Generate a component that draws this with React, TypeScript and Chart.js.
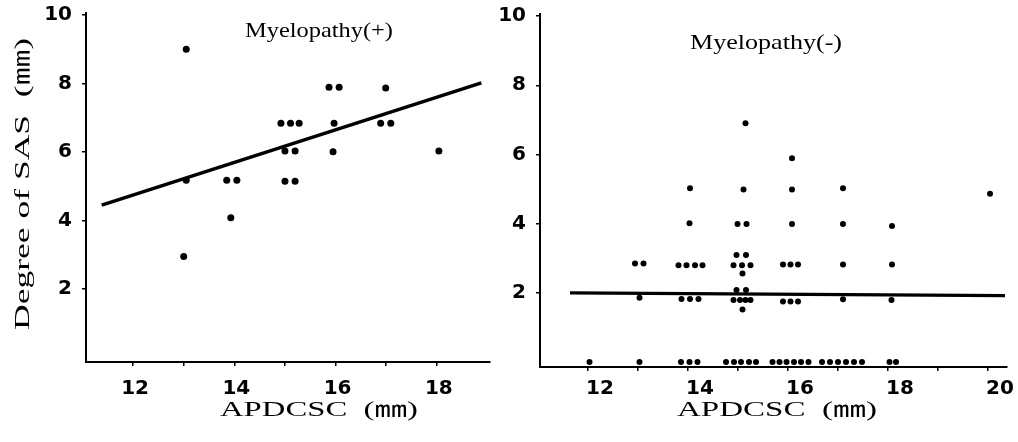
import React, { useEffect, useRef } from "react";
import { Chart, registerables } from "chart.js";

Chart.register(...registerables);

// ---------- data ----------
const leftX = [13.05, 13.0, 13.05, 13.85, 14.05, 13.93, 14.92, 15.11, 15.28, 15.0, 15.2, 15.0, 15.2, 15.87, 16.07, 15.97, 15.95, 16.99, 16.89, 17.09, 18.04];
const leftY = [9.0, 2.95, 5.18, 5.18, 5.18, 4.08, 6.84, 6.84, 6.84, 6.03, 6.03, 5.15, 5.15, 7.89, 7.89, 6.84, 6.01, 7.87, 6.84, 6.84, 6.03];
const leftFitX = [11.38, 18.88];
const leftFitY = [4.45, 8.02];

const rightX = [
  12.03,
  13.03, 13.03, 12.94, 13.11,
  13.86, 14.03, 14.19, 13.87, 14.04, 14.21, 13.81, 13.97, 14.14, 14.29, 14.03, 14.04,
  14.76, 14.92, 15.06, 15.22, 15.36, 14.97, 15.16, 14.91, 15.04, 15.15, 15.25, 15.09, 14.97, 15.16, 14.91, 15.08, 15.25, 15.09, 14.99, 15.17, 15.11, 15.15,
  15.69, 15.83, 15.97, 16.12, 16.26, 16.41, 15.9, 16.05, 16.2, 15.9, 16.05, 16.2, 16.08, 16.08, 16.08,
  16.68, 16.84, 17.0, 17.16, 17.32, 17.48, 17.1, 17.1, 17.1, 17.1,
  18.03, 18.16, 18.07, 18.08, 18.08,
  20.04,
];
const rightY = [
  0,
  0, 1.86, 2.85, 2.85,
  0, 0, 0, 1.82, 1.82, 1.82, 2.8, 2.8, 2.8, 2.8, 4.01, 5.02,
  0, 0, 0, 0, 0, 2.08, 2.08, 1.79, 1.79, 1.79, 1.79, 1.52, 3.09, 3.09, 2.8, 2.8, 2.8, 2.56, 3.99, 3.99, 4.99, 6.9,
  0, 0, 0, 0, 0, 0, 1.75, 1.75, 1.75, 2.82, 2.82, 2.82, 3.99, 4.99, 5.89,
  0, 0, 0, 0, 0, 0, 1.81, 2.82, 3.99, 5.02,
  0, 0, 1.79, 2.82, 3.93,
  4.86,
];
const rightFitX = [11.64, 20.34];
const rightFitY = [2.0, 1.92];

const leftXTicks = [12, 13, 14, 15, 16, 17, 18];
const leftXLabels = [12, 14, 16, 18];
const rightXTicks = [12, 13, 14, 15, 16, 17, 18, 19, 20];
const rightXLabels = [12, 14, 16, 18, 20];
const yTicks = [2, 4, 6, 8, 10];

const titleLeft = "Myelopathy(+)";
const titleRight = "Myelopathy(-)";
const xTitle = "APDCSC  (㎜)";
const yTitle = "Degree of SAS  (㎜)";

// ---------- helpers ----------
type TextSpec = { text: string; x: number; y: number; width: number; size: number; rotate?: number };

function textPlugin(specs: TextSpec[]) {
  return {
    id: "stretchText",
    afterDraw(chart: any) {
      const ctx = chart.ctx as CanvasRenderingContext2D;
      for (const s of specs) {
        ctx.save();
        ctx.font = `${s.size}px "Liberation Serif", "Noto Sans CJK JP", serif`;
        const w = ctx.measureText(s.text).width;
        ctx.translate(s.x, s.y);
        if (s.rotate) ctx.rotate(s.rotate);
        ctx.scale(s.width / w, 1);
        ctx.textAlign = "center";
        ctx.textBaseline = "middle";
        ctx.fillStyle = "#000";
        ctx.fillText(s.text, 0, 0);
        ctx.restore();
      }
    },
  };
}

const tickFont = { family: '"DejaVu Sans", sans-serif', weight: "bold" as const, size: 20 };

type PanelCfg = {
  xs: number[];
  ys: number[];
  fitX: number[];
  fitY: number[];
  xMin: number;
  xMax: number;
  yMin: number;
  yMax: number;
  xTicks: number[];
  xLabels: number[];
  yAxisWidth: number;
  xAxisHeight: number;
  padTop: number;
  padRight: number;
  xLabelPad: number;
  xLabelOffset: number;
  pointRadius: number;
  lineWidth: number;
  texts: TextSpec[];
};

function buildConfig(p: PanelCfg): any {
  return {
    type: "scatter",
    data: {
      datasets: [
        {
          data: p.fitX.map((x, i) => ({ x, y: p.fitY[i] })),
          showLine: true,
          borderColor: "#000",
          borderWidth: p.lineWidth,
          pointRadius: 0,
          fill: false,
        },
        {
          data: p.xs.map((x, i) => ({ x, y: p.ys[i] })),
          pointRadius: p.pointRadius,
          pointBackgroundColor: "#000",
          pointBorderWidth: 0,
          showLine: false,
        },
      ],
    },
    options: {
      animation: false,
      responsive: false,
      devicePixelRatio: 1,
      events: [],
      layout: { padding: { left: 0, right: p.padRight, top: p.padTop, bottom: 0 } },
      plugins: { legend: { display: false }, tooltip: { enabled: false }, title: { display: false } },
      scales: {
        x: {
          type: "linear",
          min: p.xMin,
          max: p.xMax,
          afterBuildTicks: (s: any) => {
            s.ticks = p.xTicks.map((v) => ({ value: v }));
          },
          afterFit: (s: any) => {
            s.height = p.xAxisHeight;
            s.paddingLeft = 0;
            s.paddingRight = 0;
          },
          grid: { display: true, drawOnChartArea: false, drawTicks: true, tickLength: 4, color: "#000", lineWidth: 1.5 },
          border: { display: true, color: "#000", width: 2 },
          ticks: {
            autoSkip: false,
            maxRotation: 0,
            padding: p.xLabelPad,
            labelOffset: p.xLabelOffset,
            color: "#000",
            font: tickFont,
            callback: (v: any) => (p.xLabels.includes(Number(v)) ? String(v) : ""),
          },
        },
        y: {
          type: "linear",
          min: p.yMin,
          max: p.yMax,
          afterBuildTicks: (s: any) => {
            s.ticks = yTicks.map((v) => ({ value: v }));
          },
          afterFit: (s: any) => {
            s.width = p.yAxisWidth;
            s.paddingTop = 0;
            s.paddingBottom = 0;
          },
          grid: { display: true, drawOnChartArea: false, drawTicks: true, tickLength: 4, color: "#000", lineWidth: 1.5 },
          border: { display: true, color: "#000", width: 2 },
          ticks: {
            autoSkip: false,
            padding: 10,
            color: "#000",
            font: tickFont,
            callback: (v: any) => String(v),
          },
        },
      },
    },
    plugins: [textPlugin(p.texts)],
  };
}

export default function App() {
  const leftRef = useRef<HTMLCanvasElement | null>(null);
  const rightRef = useRef<HTMLCanvasElement | null>(null);

  useEffect(() => {
    const left = new Chart(
      leftRef.current!,
      buildConfig({
        xs: leftX,
        ys: leftY,
        fitX: leftFitX,
        fitY: leftFitY,
        xMin: 11.07,
        xMax: 19.05,
        yMin: -0.13,
        yMax: 10.06,
        xTicks: leftXTicks,
        xLabels: leftXLabels,
        yAxisWidth: 86,
        xAxisHeight: 80,
        padTop: 13,
        padRight: 10,
        xLabelPad: 11,
        xLabelOffset: 2,
        pointRadius: 3.5,
        lineWidth: 3.6,
        texts: [
          { text: titleLeft, x: 319, y: 31, width: 148, size: 21 },
          { text: xTitle, x: 319, y: 410, width: 198, size: 21 },
          { text: yTitle, x: 23, y: 184, width: 292, size: 22, rotate: -Math.PI / 2 },
        ],
      })
    );
    const right = new Chart(
      rightRef.current!,
      buildConfig({
        xs: rightX,
        ys: rightY,
        fitX: rightFitX,
        fitY: rightFitY,
        xMin: 11.04,
        xMax: 20.38,
        yMin: -0.145,
        yMax: 10.06,
        xTicks: rightXTicks,
        xLabels: rightXLabels,
        yAxisWidth: 50,
        xAxisHeight: 75,
        padTop: 14,
        padRight: 11,
        xLabelPad: 6,
        xLabelOffset: 12,
        pointRadius: 3,
        lineWidth: 3.2,
        texts: [
          { text: titleRight, x: 766 - 490, y: 43, width: 152, size: 21 },
          { text: xTitle, x: 777 - 490, y: 410, width: 200, size: 21 },
        ],
      })
    );
    return () => {
      left.destroy();
      right.destroy();
    };
  }, []);

  return (
    <div style={{ position: "absolute", left: 0, top: 0, width: 1018, height: 442, background: "#fff", overflow: "hidden" }}>
      <canvas ref={leftRef} width={500} height={442} style={{ position: "absolute", left: 0, top: 0, width: 500, height: 442 }} />
      <canvas ref={rightRef} width={528} height={442} style={{ position: "absolute", left: 490, top: 0, width: 528, height: 442 }} />
    </div>
  );
}
